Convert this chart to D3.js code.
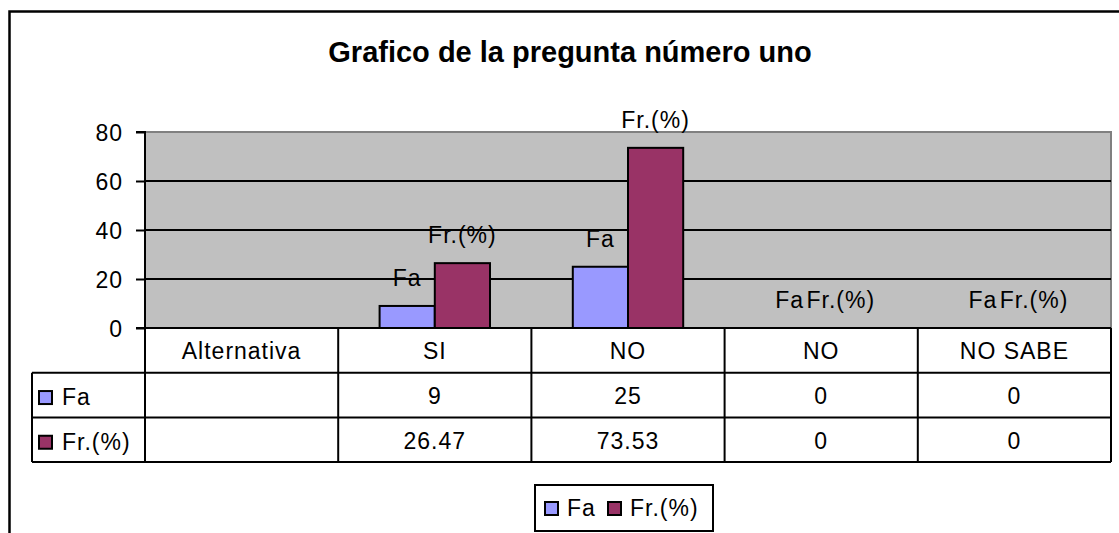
<!DOCTYPE html>
<html>
<head>
<meta charset="utf-8">
<script src="https://cdn.jsdelivr.net/npm/d3@7"></script>
<style>
  body { margin: 0; background: #fff; }
  svg text { font-family: Arial, "Liberation Sans", sans-serif; fill: #000; }
  .lbl { font-size: 23px; letter-spacing: 1px; }
</style>
</head>
<body>
<svg id="chart" width="1119" height="533"></svg>
<script>
// data
var categories = ["Alternativa", "SI", "NO", "NO", "NO SABE"];
var seriesNames = ["Fa", "Fr.(%)"];
var faValues = [null, 9, 25, 0, 0];
var frValues = [null, 26.47, 73.53, 0, 0];
var yTicks = [0, 20, 40, 60, 80];
var seriesColors = ["#9999FF", "#993366"];

var svg = d3.select("#chart");

var plot = { left: 145, right: 1111, top: 132, bottom: 328 },
  rowH = 44.7,
  keyLeft = 32;

// outer chart frame (runs off the right and bottom edge)
svg.append("rect")
  .attr("x", 9.5).attr("y", 11.5)
  .attr("width", 1200).attr("height", 600)
  .attr("fill", "#fff")
  .attr("stroke", "#000")
  .attr("stroke-width", 2.5);

svg.append("text")
  .attr("x", 570).attr("y", 62)
  .attr("text-anchor", "middle")
  .style("font-size", "29px")
  .style("font-weight", "bold")
  .text("Grafico de la pregunta número uno");

var idx = categories.map(function (d, i) { return i; });

var x = d3.scaleBand()
  .domain(idx)
  .range([plot.left, plot.right]);

var cw = x.bandwidth();
var x1 = d3.scaleBand()
  .domain(seriesNames)
  .range([cw * 0.75 / 3.5, cw - cw * 0.75 / 3.5]);

var y = d3.scaleLinear()
  .domain([0, 80])
  .range([plot.bottom, plot.top]);

// plot area
svg.append("rect")
  .attr("x", plot.left).attr("y", plot.top)
  .attr("width", plot.right - plot.left)
  .attr("height", plot.bottom - plot.top)
  .attr("fill", "#C0C0C0")
  .attr("stroke", "#808080")
  .attr("stroke-width", 2);

// gridlines
svg.append("g")
  .selectAll("line")
  .data(yTicks.filter(function (d) { return d > 0 && d < 80; }))
  .enter().append("line")
  .attr("x1", plot.left).attr("x2", plot.right)
  .attr("y1", function (d) { return y(d); })
  .attr("y2", function (d) { return y(d); })
  .attr("stroke", "#000")
  .attr("stroke-width", 2);

// y axis
var yAxis = d3.axisLeft(y).tickValues(yTicks).tickSize(9).tickPadding(13);
var gy = svg.append("g")
  .attr("transform", "translate(" + plot.left + ",0)")
  .call(yAxis);
gy.select(".domain").attr("stroke", "#000").attr("stroke-width", 2)
  .attr("d", "M-9," + plot.top + "H0V" + plot.bottom + "H-9");
gy.selectAll(".tick line").attr("stroke", "#000").attr("stroke-width", 2);
gy.selectAll(".tick text")
  .attr("class", "lbl")
  .style("font-family", "Arial, 'Liberation Sans', sans-serif")
  .attr("dy", "0.36em");

// bars
var rows = [faValues, frValues];
var bars = [];
rows.forEach(function (vals, s) {
  vals.forEach(function (v, i) {
    if (v !== null) bars.push({ i: i, s: s, v: v });
  });
});

svg.append("g")
  .selectAll("rect")
  .data(bars.filter(function (d) { return d.v > 0; }))
  .enter().append("rect")
  .attr("x", function (d) { return x(d.i) + x1(seriesNames[d.s]); })
  .attr("y", function (d) { return y(d.v); })
  .attr("width", x1.bandwidth())
  .attr("height", function (d) { return y(0) - y(d.v); })
  .attr("fill", function (d) { return seriesColors[d.s]; })
  .attr("stroke", "#000")
  .attr("stroke-width", 2);

// series-name labels above bars
svg.append("g")
  .selectAll("text")
  .data(bars)
  .enter().append("text")
  .attr("class", "lbl")
  .attr("x", function (d) {
    var c = x(d.i) + x1(seriesNames[d.s]) + x1.bandwidth() / 2;
    // zero bars: labels sit side by side
    if (d.v === 0) c += d.s === 0 ? -4 : -8;
    return c;
  })
  .attr("y", function (d) { return y(d.v) - 20; })
  .attr("text-anchor", "middle")
  .text(function (d) { return seriesNames[d.s]; });

// data table
var table = svg.append("g");
var tTop = plot.bottom;

// horizontal lines
[0, 1, 2, 3].forEach(function (r) {
  table.append("line")
    .attr("x1", r === 0 ? plot.left - 9 : keyLeft)
    .attr("x2", plot.right)
    .attr("y1", tTop + r * rowH).attr("y2", tTop + r * rowH)
    .attr("stroke", "#000").attr("stroke-width", 2);
});
// vertical lines
idx.concat([categories.length]).forEach(function (i) {
  var xx = i < categories.length ? x(i) : plot.right;
  table.append("line")
    .attr("x1", xx).attr("x2", xx)
    .attr("y1", tTop).attr("y2", tTop + 3 * rowH)
    .attr("stroke", "#000").attr("stroke-width", 2);
});
table.append("line")
  .attr("x1", keyLeft).attr("x2", keyLeft)
  .attr("y1", tTop + rowH).attr("y2", tTop + 3 * rowH)
  .attr("stroke", "#000").attr("stroke-width", 2);

table.selectAll("text.cat")
  .data(categories)
  .enter().append("text")
  .attr("class", "cat lbl")
  .attr("x", function (d, i) { return x(i) + cw / 2; })
  .attr("y", tTop + rowH / 2 + 9)
  .attr("text-anchor", "middle")
  .text(function (d) { return d; });

rows.forEach(function (vals, s) {
  var ry = tTop + (s + 1) * rowH;
  table.append("rect")
    .attr("x", keyLeft + 7).attr("y", ry + rowH / 2 - 4)
    .attr("width", 13).attr("height", 13)
    .attr("fill", seriesColors[s]).attr("stroke", "#000").attr("stroke-width", 2);
  table.append("text")
    .attr("class", "lbl")
    .attr("x", keyLeft + 30).attr("y", ry + rowH / 2 + 10)
    .text(seriesNames[s]);
  table.selectAll(null)
    .data(vals)
    .enter().append("text")
    .attr("class", "lbl")
    .attr("x", function (d, i) { return x(i) + cw / 2; })
    .attr("y", ry + rowH / 2 + 9)
    .attr("text-anchor", "middle")
    .text(function (d) { return d === null ? "" : d; });
});

// legend
var lg = svg.append("g").attr("transform", "translate(535,485)");
lg.append("rect")
  .attr("width", 178).attr("height", 46)
  .attr("fill", "#fff").attr("stroke", "#000").attr("stroke-width", 2);
var lx = [10, 73];
seriesNames.forEach(function (name, s) {
  lg.append("rect")
    .attr("x", lx[s]).attr("y", 17)
    .attr("width", 13).attr("height", 13)
    .attr("fill", seriesColors[s]).attr("stroke", "#000").attr("stroke-width", 2);
  lg.append("text")
    .attr("class", "lbl")
    .attr("x", lx[s] + 22).attr("y", 31)
    .text(name);
});
</script>
</body>
</html>
